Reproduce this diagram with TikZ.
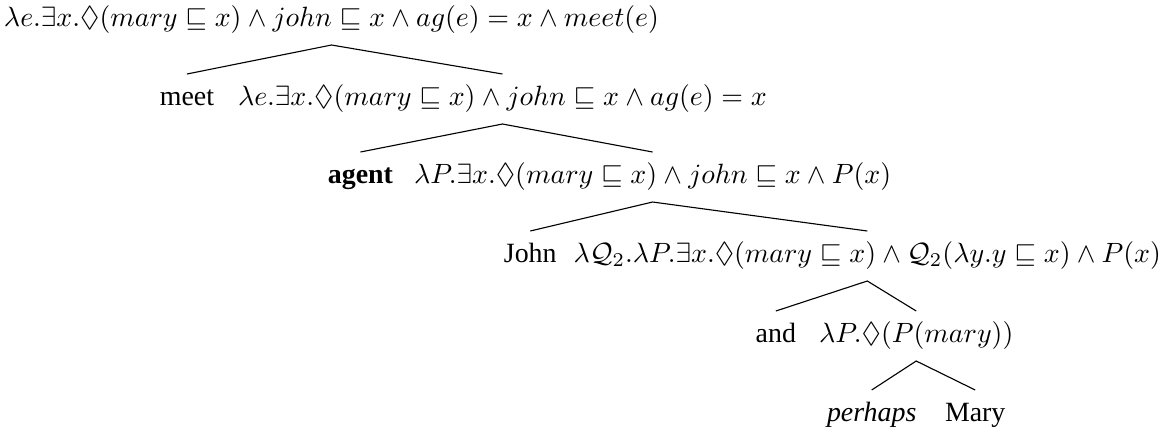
\documentclass[tikz,border=0pt]{standalone}
\usepackage[no-math]{fontspec}
\setmainfont{Liberation Serif}
\usepackage{amssymb}
\usetikzlibrary{calc}

\begin{document}
\begin{tikzpicture}[
    x=0.0126cm, y=-0.0126cm,
    every node/.style={inner sep=0pt, outer sep=0pt},
    word/.style={font=\fontsize{10}{12}\selectfont, anchor=base east},
    sem/.style={font=\fontsize{10.4}{12.5}\selectfont, anchor=base west},
    branch/.style={line width=0.4pt}
]
    \useasboundingbox (0,0) rectangle (1164,435);

    % root
    \node[sem] (s0) at (4,26)
        {$\lambda e.\exists x.\Diamond(mary\sqsubseteq x)\wedge john\sqsubseteq x\wedge ag(e)=x\wedge meet(e)$};

    % level 1
    \node[sem] (s1) at (238,105)
        {$\lambda e.\exists x.\Diamond(mary\sqsubseteq x)\wedge john\sqsubseteq x\wedge ag(e)=x$};
    \node[word] (w1) at (214,105) {meet};

    % level 2
    \node[sem] (s2) at (414,183)
        {$\lambda P.\exists x.\Diamond(mary\sqsubseteq x)\wedge john\sqsubseteq x\wedge P(x)$};
    \node[word] (w2) at (393,183) {\textbf{agent}};

    % level 3 (flush with the right edge)
    \node[sem, anchor=base east] (s3) at (1161,262)
        {$\lambda\mathcal{Q}_2.\lambda P.\exists x.\Diamond(mary\sqsubseteq x)\wedge\mathcal{Q}_2(\lambda y.y\sqsubseteq x)\wedge P(x)$};
    \node[word] (w3) at ($(s3.base west)+(-17,0)$) {John};

    % level 4
    \node[sem] (s4) at (819,342) {$\lambda P.\Diamond(P(mary))$};
    \node[word] (w4) at (796,342) {and};

    % level 5
    \node[word, anchor=base west] (w5) at (827,421) {\textit{perhaps}};
    \node[word, anchor=base west] (w6) at (945,421) {Mary};

    % branches: parent centre down to the centres of both daughters
    \foreach \p/\l/\r in {s0/w1/s1, s1/w2/s2, s2/w3/s3, s3/w4/s4, s4/w5/w6} {
        \draw[branch] ($(\l.base)+(0,-31)$) -- ($(\p.base)+(0,19)$) -- ($(\r.base)+(0,-31)$);
    }
\end{tikzpicture}
\end{document}
